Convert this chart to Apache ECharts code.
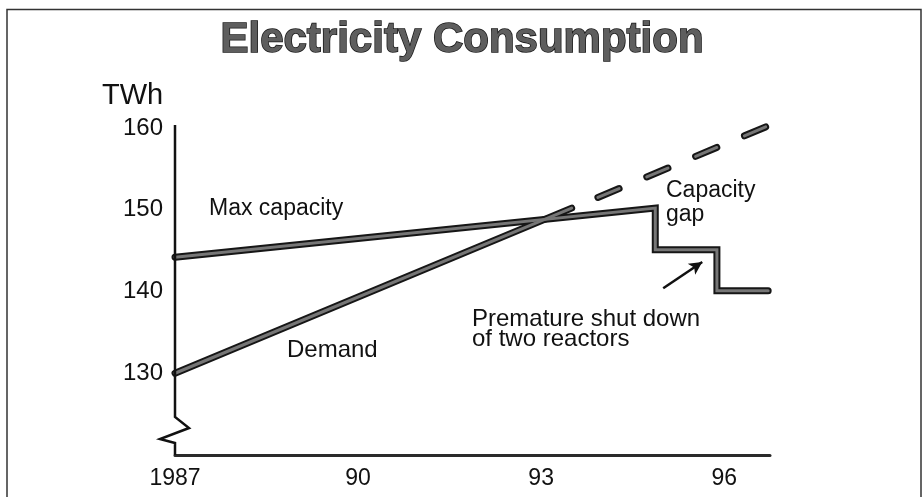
<!DOCTYPE html>
<html>
<head>
<meta charset="utf-8">
<title>Electricity Consumption</title>
<script src="https://cdn.jsdelivr.net/npm/echarts@6/dist/echarts.min.js"></script>
<style>
  html, body { margin: 0; padding: 0; background: #fff; }
  #main { width: 922px; height: 497px; }
</style>
</head>
<body>
<div id="main"></div>
<script>
// ticks
var xTicks = [1987, 1990, 1993, 1996];
var xTickLabels = ['1987', '90', '93', '96'];
var yTicks = [130, 140, 150, 160];

// max capacity (step line)
var capYears  = [1987, 1994.87, 1994.87, 1995.88, 1995.88, 1996.72];
var capValues = [144.2, 150.2, 145.1, 145.1, 140.1, 140.1];

// demand, solid part
var demandYears  = [1987, 1993.5];
var demandValues = [130, 150.2];

// demand, dashed forecast
var forecastYears  = [1993.93, 1996.7];
var forecastValues = [151.5, 160.2];

// arrow for "premature shut down"
var arrowFrom = [1995.0, 140.4];
var arrowTo   = [1995.64, 143.6];

var FONT = '"Liberation Sans", Arial, Helvetica, sans-serif';

function pairs(xs, ys) {
  var out = [];
  for (var i = 0; i < xs.length; i++) {
    out.push([xs[i], ys[i]]);
  }
  return out;
}

// each line = dark outline + grey core
function twoLayer(name, data, dash, join) {
  var base = {
    name: name,
    type: 'line',
    data: data,
    symbol: 'none',
    clip: false,
    silent: true,
    lineStyle: { color: '#161616', width: 7, type: dash || 'solid', cap: 'round', join: join || 'round' },
    z: 2
  };
  var core = {
    name: name + '_core',
    type: 'line',
    data: data,
    symbol: 'none',
    clip: false,
    silent: true,
    lineStyle: { color: '#767676', width: 3, type: dash || 'solid', cap: 'round', join: join || 'round' },
    z: 3
  };
  return [base, core];
}

var series = [];
series = series.concat(twoLayer('Max capacity', pairs(capYears, capValues), null, 'miter'));
series = series.concat(twoLayer('Demand', pairs(demandYears, demandValues)));
series = series.concat(twoLayer('Forecast', pairs(forecastYears, forecastValues), [23, 30]));

// arrow on top
series.push({
  type: 'line',
  data: [],
  silent: true,
  markLine: {
    silent: true,
    animation: false,
    symbol: ['none', 'arrow'],
    symbolSize: [10, 13],
    label: { show: false },
    lineStyle: { color: '#111', width: 2.5, type: 'solid' },
    data: [[{ coord: arrowFrom }, { coord: arrowTo }]]
  },
  z: 5
});

var chart = echarts.init(document.getElementById('main'));

var option = {
  animation: false,
  backgroundColor: '#fff',
  textStyle: { fontFamily: FONT },
  grid: {
    left: 175,
    right: 152,
    top: 128,
    bottom: 42,
    containLabel: false,
    outerBoundsMode: 'none'
  },
  xAxis: {
    type: 'value',
    min: 1987,
    max: 1996.75,
    interval: 3,
    axisLine: { show: true, lineStyle: { color: '#2a2a2a', width: 3 } },
    axisTick: { show: false },
    splitLine: { show: false },
    axisLabel: {
      margin: 12,
      fontSize: 23,
      color: '#111',
      fontFamily: FONT,
      formatter: function (v) {
        var i = xTicks.indexOf(Math.round(v * 100) / 100);
        return i >= 0 ? xTickLabels[i] : '';
      }
    }
  },
  yAxis: {
    type: 'value',
    min: 120,
    max: 160,
    interval: 10,
    axisLine: { show: false },
    axisTick: { show: false },
    splitLine: { show: false },
    axisLabel: {
      margin: 12,
      fontSize: 24,
      color: '#111',
      fontFamily: FONT,
      formatter: function (v) {
        return yTicks.indexOf(v) >= 0 ? String(v) : '';
      }
    }
  },
  series: series
};

chart.setOption(option);

// axis with break, frame and texts
var p160 = chart.convertToPixel({ yAxisIndex: 0 }, 160);
var p120 = chart.convertToPixel({ yAxisIndex: 0 }, 120);
var x0 = chart.convertToPixel({ xAxisIndex: 0 }, 1987);

chart.setOption({
  graphic: [
    {
      type: 'rect',
      shape: { x: 7, y: 9.5, width: 914, height: 500 },
      style: { fill: 'none', stroke: '#333', lineWidth: 1.5 },
      silent: true,
      z: 0
    },
    {
      type: 'polyline',
      shape: {
        points: [
          [x0, p160 - 3],
          [x0, p120 - 38],
          [x0 + 14, p120 - 27],
          [x0 - 15, p120 - 16],
          [x0, p120 - 12],
          [x0, p120]
        ]
      },
      style: { stroke: '#111', lineWidth: 2.5, fill: 'none', lineJoin: 'miter' },
      silent: true,
      z: 10
    },
    {
      type: 'text',
      x: 462, y: 40,
      style: {
        text: 'Electricity Consumption',
        font: 'bold 42px ' + FONT,
        fill: '#5e5e5e',
        stroke: '#161616',
        lineWidth: 1.5,
        align: 'center',
        verticalAlign: 'middle'
      },
      silent: true,
      z: 10
    },
    {
      type: 'text',
      x: 102, y: 96,
      style: { text: 'TWh', font: '29px ' + FONT, fill: '#111', align: 'left', verticalAlign: 'middle' },
      silent: true, z: 10
    },
    {
      type: 'text',
      x: 209, y: 209,
      style: { text: 'Max capacity', font: '23px ' + FONT, fill: '#111', align: 'left', verticalAlign: 'middle' },
      silent: true, z: 10
    },
    {
      type: 'text',
      x: 287, y: 350,
      style: { text: 'Demand', font: '24px ' + FONT, fill: '#111', align: 'left', verticalAlign: 'middle' },
      silent: true, z: 10
    },
    {
      type: 'text',
      x: 666, y: 178.5,
      style: {
        text: 'Capacity\ngap', font: '23px ' + FONT, lineHeight: 24,
        fill: '#111', align: 'left', verticalAlign: 'top'
      },
      silent: true, z: 10
    },
    {
      type: 'text',
      x: 472, y: 309.5,
      style: {
        text: 'Premature shut down\nof two reactors', font: '24px ' + FONT, lineHeight: 20,
        fill: '#111', align: 'left', verticalAlign: 'top'
      },
      silent: true, z: 10
    }
  ]
});
</script>
</body>
</html>
